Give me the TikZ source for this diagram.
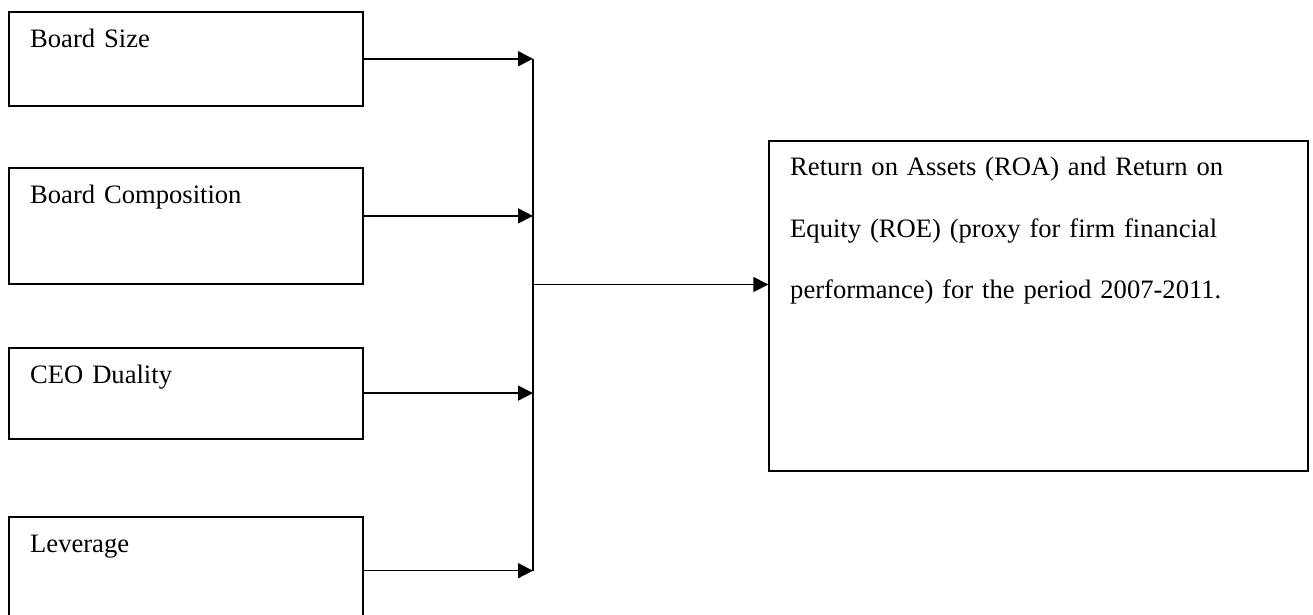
\documentclass[tikz,border=0pt]{standalone}
\usepackage{fontspec}
\setmainfont{Liberation Serif}
\usepackage{tikz}
\usetikzlibrary{calc, positioning, arrows.meta}
\tikzset{
    factor/.style={rectangle, draw=black, line width=1.8pt, anchor=north west, align=left, inner xsep=21pt, inner ysep=0pt, text width=312pt, text height=35.5pt, font=\fontsize{26.6pt}{61.5pt}\selectfont},
    outcome/.style={factor, text width=496.7pt, text height=35pt},
    link/.style={line width=1.5pt},
    arrow/.style={link, -{Triangle[length=15pt, width=15pt]}}
}
\begin{document}
\begin{tikzpicture}[x=1pt, y=-1pt]
        \useasboundingbox (0,0) rectangle (1313,614);
        \clip (0,0) rectangle (1313,614);

        % Factors
        \node[factor, text depth=58.8pt] (Size) at (8.3,10.7) {Board Size};
        \node[factor, text depth=79.9pt] (Comp) at (8.3,167.3) {Board Composition};
        \node[factor, text depth=55.5pt] (CEO) at (8.3,346.7) {CEO Duality};
        \node[factor, text depth=71.5pt] (Lev) at (8.3,516.3) {Leverage};

        % Performance
        \node[outcome, text depth=295pt] (Perf) at (768.3,140) {Return on Assets (ROA) and Return on\\Equity (ROE) (proxy for firm financial\\performance) for the period 2007-2011.};

        % Bus
        \coordinate (Bus) at (533,0);
        \coordinate (CompOut) at ([yshift=10pt]Comp.east);

        % Connections
        \draw[arrow] (Size.east) -- (Size.east -| Bus);
        \draw[arrow] (CompOut) -- (CompOut -| Bus);
        \draw[arrow] (CEO.east) -- (CEO.east -| Bus);
        \draw[arrow] (Lev.east) -- (Lev.east -| Bus);
        \draw[link] (Size.east -| Bus) -- (Lev.east -| Bus);

        \draw[arrow] (Comp.south -| Bus) -- (Comp.south -| Perf.west);

    \end{tikzpicture}
\end{document}
